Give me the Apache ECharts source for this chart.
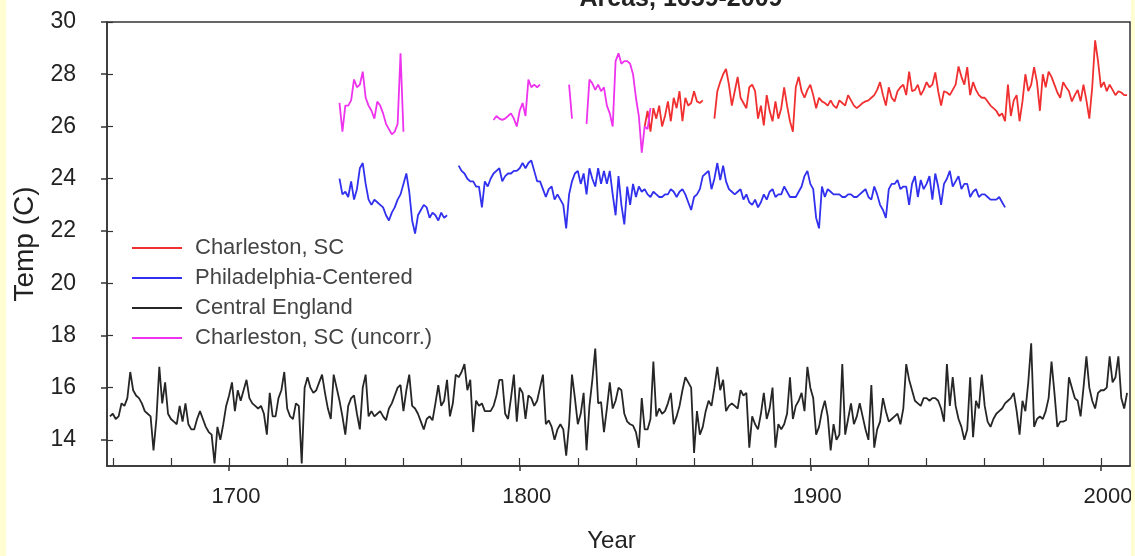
<!DOCTYPE html>
<html>
<head>
<meta charset="utf-8">
<script src="https://cdn.jsdelivr.net/npm/echarts@6/dist/echarts.min.js"></script>
<style>
  html, body { margin: 0; padding: 0; width: 1135px; height: 556px; background: #fffed2; overflow: hidden; }
  #chart { position: absolute; left: 6px; top: 0; width: 1125px; height: 556px; background: #fff; }
</style>
</head>
<body>
<div id="chart"></div>
<script>
// Central England, summer mean, 1659-2009
const cetStart = 1659
const cetTemp = [
  14.9, 15.0, 14.8, 14.9, 15.4, 15.3, 15.6, 16.6, 15.9, 15.7, 15.6,
  15.4, 15.1, 15.0, 14.9, 13.6, 14.8, 16.8, 15.4, 16.2, 15.0,
  14.8, 14.7, 14.6, 15.3, 14.7, 15.4, 14.6, 14.4, 14.4, 14.8,
  15.1, 14.8, 14.5, 14.3, 14.2, 13.1, 14.5, 14.0, 14.6, 15.3,
  15.7, 16.2, 15.1, 15.9, 15.5, 15.9, 16.3, 15.6, 15.4, 15.3,
  15.2, 15.3, 15.0, 14.2, 15.8, 14.9, 14.9, 15.6, 15.9, 16.6,
  15.2, 14.9, 14.8, 15.4, 15.3, 13.1, 16.0, 16.4, 16.0, 15.8,
  15.9, 16.2, 16.5, 15.8, 15.2, 14.8, 16.5, 16.0, 15.5, 14.9,
  14.2, 15.3, 15.6, 15.7, 15.0, 14.4, 16.0, 16.5, 14.9, 15.1,
  14.9, 15.0, 15.1, 14.9, 14.75, 15.2, 15.4, 15.7, 16.0, 16.1,
  15.1, 15.9, 16.5, 15.3, 15.2, 15.0, 14.7, 14.4, 14.8, 14.9,
  14.75, 15.4, 16.1, 15.3, 15.5, 16.3, 14.9, 15.4, 16.5, 16.4,
  16.6, 16.9, 15.9, 16.3, 14.3, 15.5, 15.3, 15.4, 15.1, 15.1,
  15.1, 15.3, 15.7, 16.3, 16.3, 15.0, 14.8, 15.6, 16.5, 14.7,
  16.0, 15.8, 14.8, 15.7, 15.6, 15.3, 15.5, 16.0, 16.5, 14.6,
  14.75, 14.5, 14.0, 14.4, 14.6, 14.4, 13.4, 14.6, 16.5, 15.6,
  14.6, 15.0, 15.8, 13.6, 15.3, 16.3, 17.5, 15.4, 15.45, 14.3,
  15.2, 16.2, 15.2, 15.5, 16.0, 15.9, 15.0, 14.7, 14.6, 14.55,
  14.3, 13.7, 15.6, 14.4, 14.4, 14.8, 17.0, 14.9, 15.2, 15.0,
  15.1, 15.4, 15.8, 14.6, 14.9, 15.3, 15.9, 16.4, 16.2, 16.0,
  13.5, 15.1, 14.2, 14.5, 15.1, 15.5, 15.3, 16.0, 16.8, 15.9,
  16.3, 15.1, 15.3, 15.4, 15.3, 15.2, 15.9, 15.7, 15.8, 13.7,
  14.9, 14.6, 14.4, 15.0, 15.8, 14.8, 15.2, 16.0, 13.7, 14.6,
  14.4, 14.6, 15.0, 16.4, 14.8, 15.3, 15.5, 15.8, 15.1, 16.8,
  16.0, 15.6, 14.2, 14.5, 15.1, 15.5, 14.9, 13.6, 14.6, 14.0,
  14.2, 16.9, 14.2, 14.8, 15.4, 14.6, 14.9, 15.4, 14.9, 14.4,
  14.0, 16.1, 13.7, 14.4, 14.7, 15.6, 15.1, 14.7, 14.8, 14.9,
  15.0, 14.6, 15.2, 16.9, 16.3, 15.9, 15.5, 15.4, 15.3, 15.6,
  15.6, 15.5, 15.6, 15.6, 15.5, 15.2, 14.7, 16.9, 15.3, 16.4,
  15.3, 14.8, 14.5, 14.0, 14.4, 16.4, 14.1, 15.5, 15.2, 16.5,
  15.3, 14.7, 14.5, 14.8, 15.0, 15.1, 15.2, 15.4, 15.5, 15.6,
  15.8, 15.1, 14.2, 15.5, 15.1, 16.2, 17.7, 14.5, 14.8, 14.9,
  14.8, 15.1, 15.6, 17.0, 15.8, 14.5, 14.7, 14.7, 14.75, 16.4,
  16.0, 15.6, 15.5, 14.9, 16.0, 17.2, 16.0, 15.5, 15.2, 15.8,
  15.9, 15.9, 16.0, 17.2, 16.2, 16.4, 17.2, 15.6, 15.2, 15.8,
]

// Philadelphia-centered, 1738-1967 (gap 1776-1778)
const phlStart = 1738
const phlTemp = [
  24.0, 23.4, 23.5, 23.3, 23.9, 23.2, 23.6, 24.4, 24.6, 23.8, 23.2, 23.0,
  23.2, 23.1, 23.0, 22.9, 22.6, 22.4, 22.7, 22.9, 23.2, 23.4,
  23.8, 24.2, 23.5, 22.4, 21.9, 22.6, 22.8, 23.0, 22.9, 22.5,
  22.7, 22.6, 22.4, 22.7, 22.5, 22.6, null, null, null, 24.5,
  24.3, 24.2, 24.0, 23.9, 23.9, 23.7, 23.7, 22.9, 23.9, 23.7,
  24.0, 24.2, 24.3, 24.4, 23.9, 24.1, 24.2, 24.2, 24.3, 24.3,
  24.4, 24.6, 24.4, 24.6, 24.7, 24.3, 23.9, 23.9, 23.6, 23.3,
  23.6, 23.7, 23.2, 23.4, 23.2, 23.0, 22.1, 23.4, 23.9, 24.2,
  24.3, 23.8, 24.2, 23.4, 24.4, 24.0, 23.7, 24.4, 23.8, 24.3,
  23.8, 24.3, 23.4, 22.6, 24.1, 23.0, 22.25, 23.7, 23.0, 23.8,
  23.3, 23.7, 23.5, 23.6, 23.4, 23.3, 23.5, 23.4, 23.3, 23.3,
  23.4, 23.4, 23.6, 23.5, 23.3, 23.5, 23.6, 23.4, 23.1, 22.8,
  23.3, 23.4, 23.6, 24.1, 24.2, 24.3, 23.6, 24.0, 24.6, 23.95,
  24.5, 23.9, 23.6, 23.5, 23.4, 23.5, 23.6, 23.2, 23.4, 23.1,
  23.0, 23.2, 22.9, 23.1, 23.4, 23.2, 23.5, 23.6, 23.3, 23.4,
  23.4, 23.7, 23.5, 23.3, 23.3, 23.3, 23.5, 23.7, 24.1, 24.3,
  23.8, 23.6, 22.5, 22.1, 23.7, 23.3, 23.6, 23.5, 23.4, 23.4,
  23.4, 23.3, 23.3, 23.4, 23.4, 23.3, 23.3, 23.4, 23.5, 23.6,
  23.3, 23.2, 23.7, 23.4, 23.0, 22.8, 22.5, 23.6, 23.8, 23.8,
  23.95, 23.6, 23.7, 23.7, 23.0, 23.8, 24.1, 23.3, 23.95, 23.6,
  23.8, 24.1, 23.2, 24.2, 23.7, 23.0, 23.8, 24.0, 24.3, 23.7,
  23.9, 24.1, 23.6, 23.8, 23.8, 23.3, 23.5, 23.6, 23.3, 23.4,
  23.4, 23.3, 23.2, 23.2, 23.2, 23.3, 23.1, 22.9,
]

// Charleston, SC, 1843-2009 (gap 1864-1866)
const chsStart = 1843
const chsTemp = [
  26.0, 26.6, 25.8, 26.7, 26.3, 26.8, 26.0,
  26.4, 26.96, 26.2, 27.1, 26.7, 27.35, 26.2, 27.1, 26.8, 26.9,
  27.35, 26.96, 26.9, 27.0, null, null, null, 26.3, 27.35, 27.7,
  28.0, 28.2, 27.6, 26.8, 27.35, 27.9, 27.1, 26.9, 26.7, 27.5,
  27.6, 27.35, 26.3, 26.8, 26.04, 27.2, 26.6, 26.2, 26.96, 26.3,
  26.7, 27.5, 26.8, 26.2, 25.8, 27.5, 27.9, 27.35, 27.1, 27.4,
  27.6, 27.2, 26.7, 27.1, 26.96, 26.9, 26.8, 27.0, 26.8, 26.7,
  27.0, 26.9, 26.8, 27.2, 27.0, 26.8, 26.7, 26.8, 26.9, 26.96,
  27.0, 27.1, 27.2, 27.4, 27.7, 27.2, 26.8, 27.5, 27.1, 26.96,
  27.35, 27.5, 27.6, 27.2, 28.1, 27.35, 27.4, 27.6, 27.2, 27.4,
  27.7, 27.5, 27.6, 28.07, 27.35, 26.8, 27.35, 27.3, 27.2, 27.4,
  27.6, 28.3, 27.9, 27.6, 28.27, 27.2, 27.7, 27.4, 27.2, 27.1,
  27.1, 26.96, 26.8, 26.7, 26.6, 26.4, 26.5, 26.2, 27.6, 26.4,
  27.0, 27.2, 26.2, 26.96, 28.0, 27.35, 27.6, 28.27, 27.7, 26.6,
  28.0, 27.5, 28.1, 27.9, 27.6, 27.3, 27.1, 27.7, 27.5, 27.35,
  26.96, 27.2, 27.4, 26.96, 27.6, 27.0, 26.3, 27.5, 29.3, 28.5,
  27.5, 27.7, 27.35, 27.6, 27.4, 27.2, 27.35, 27.3, 27.2, 27.2,
]

// Charleston, SC uncorrected, 1738-1845 (with gaps)
const chsRawStart = 1738
const chsRawTemp = [
  26.9, 25.8, 26.8, 26.8, 27.0, 27.8, 27.5, 27.6, 28.1, 27.1, 26.8, 26.6,
  26.3, 26.95, 26.8, 26.5, 26.1, 25.9, 25.7, 25.8, 26.1, 28.8,
  25.8, null, null, null, null, null, null, null, null, null,
  null, null, null, null, null, null, null, null, null, null,
  null, null, null, null, null, null, null, null, null, null,
  null, 26.25, 26.4, 26.3, 26.25, 26.3, 26.4, 26.5, 26.3, 26.0,
  26.6, 26.9, 26.4, 27.8, 27.5, 27.6, 27.5, 27.6, null, null,
  null, null, null, null, null, null, null, 27.6, 26.3, null,
  null, null, null, 26.1, 27.8, 27.65, 27.4, 27.6, 27.35, 27.5,
  26.8, 26.5, 26.0, 28.5, 28.8, 28.4, 28.5, 28.5, 28.4, 28.0,
  27.1, 26.4, 25.0, 26.0, 25.9, 26.7,
]

const xMajor = [1700, 1800, 1900, 2000]
const xMinor = [1660, 1680, 1700, 1720, 1740, 1760, 1780, 1800, 1820, 1840, 1860, 1880, 1900, 1920, 1940, 1960, 1980, 2000]
const yTicks = [14, 16, 18, 20, 22, 24, 26, 28, 30]

const FONT = '"Liberation Sans", Arial, sans-serif'
const AXIS_COLOR = '#333'

const toPairs = (start, values) => values.map((v, i) => [start + i, v == null ? '-' : v])

const buildSeries = () => {
  const line = (name, color, start, values) => ({
    name,
    type: 'line',
    data: toPairs(start, values),
    showSymbol: false,
    connectNulls: false,
    color,
    lineStyle: { color, width: 1.8 },
  })
  return [
    line('Central England', '#262626', cetStart, cetTemp),
    line('Philadelphia-Centered', '#3030ee', phlStart, phlTemp),
    line('Charleston, SC', '#f03030', chsStart, chsTemp),
    line('Charleston, SC (uncorr.)', '#ee33ee', chsRawStart, chsRawTemp),
  ]
}

const buildOption = () => ({
  animation: false,
  backgroundColor: '#fff',
  textStyle: { fontFamily: FONT },
  grid: {
    left: 101, right: 1, top: 22, bottom: 90,
    outerBoundsMode: 'none',
    show: true, borderColor: AXIS_COLOR, borderWidth: 1.5,
  },
  // 标题只露出下半截
  graphic: [{
    type: 'text',
    x: 675,
    y: -1,
    style: {
      text: 'Areas, 1659-2009',
      align: 'center',
      verticalAlign: 'middle',
      font: 'bold 25px ' + FONT,
      fill: '#222',
    },
  }],
  legend: {
    orient: 'vertical',
    left: 121,
    top: 232,
    itemWidth: 50,
    itemHeight: 2,
    itemGap: 8,
    icon: 'rect',
    data: ['Charleston, SC', 'Philadelphia-Centered', 'Central England', 'Charleston, SC (uncorr.)'],
    textStyle: { fontSize: 22, color: '#444', fontFamily: FONT, padding: [0, 0, 0, 8] },
  },
  xAxis: [
    {
      type: 'value', min: 1658, max: 2010,
      name: 'Year', nameLocation: 'middle', nameGap: 63,
      nameTextStyle: { fontSize: 24, color: '#222', padding: [0, 14, 0, 0] },
      axisLine: { lineStyle: { color: AXIS_COLOR, width: 1.5 } },
      axisTick: { show: true, inside: false, length: 5, customValues: xMajor, lineStyle: { color: AXIS_COLOR, width: 1.5 } },
      axisLabel: { customValues: xMajor, fontSize: 22, color: '#222', margin: 20, padding: [0, 0, 0, 14], formatter: v => String(v) },
      splitLine: { show: false },
    },
    {
      type: 'value', min: 1658, max: 2010, position: 'bottom',
      axisLine: { show: false },
      axisTick: { show: true, inside: true, length: 8, customValues: xMinor, lineStyle: { color: AXIS_COLOR, width: 1.2 } },
      axisLabel: { show: false },
      splitLine: { show: false },
    },
  ],
  yAxis: [
    {
      type: 'value', min: 13, max: 30,
      name: 'Temp (C)', nameLocation: 'middle', nameGap: 56,
      nameTextStyle: { fontSize: 28, color: '#222' },
      axisLine: { show: true, lineStyle: { color: AXIS_COLOR, width: 1.5 } },
      axisTick: { show: true, inside: false, length: 6, customValues: yTicks, lineStyle: { color: AXIS_COLOR, width: 1.5 } },
      axisLabel: { customValues: yTicks, fontSize: 23, color: '#222', margin: 31, formatter: v => String(v) },
      splitLine: { show: false },
    },
    {
      type: 'value', min: 13, max: 30, position: 'left',
      axisLine: { show: false },
      axisTick: { show: true, inside: true, length: 6, customValues: yTicks, lineStyle: { color: AXIS_COLOR, width: 1.2 } },
      axisLabel: { show: false },
      splitLine: { show: false },
    },
  ],
  series: buildSeries(),
})

const chart = echarts.init(document.getElementById('chart'), null, { renderer: 'canvas' })
chart.setOption(buildOption())
</script>
</body>
</html>
